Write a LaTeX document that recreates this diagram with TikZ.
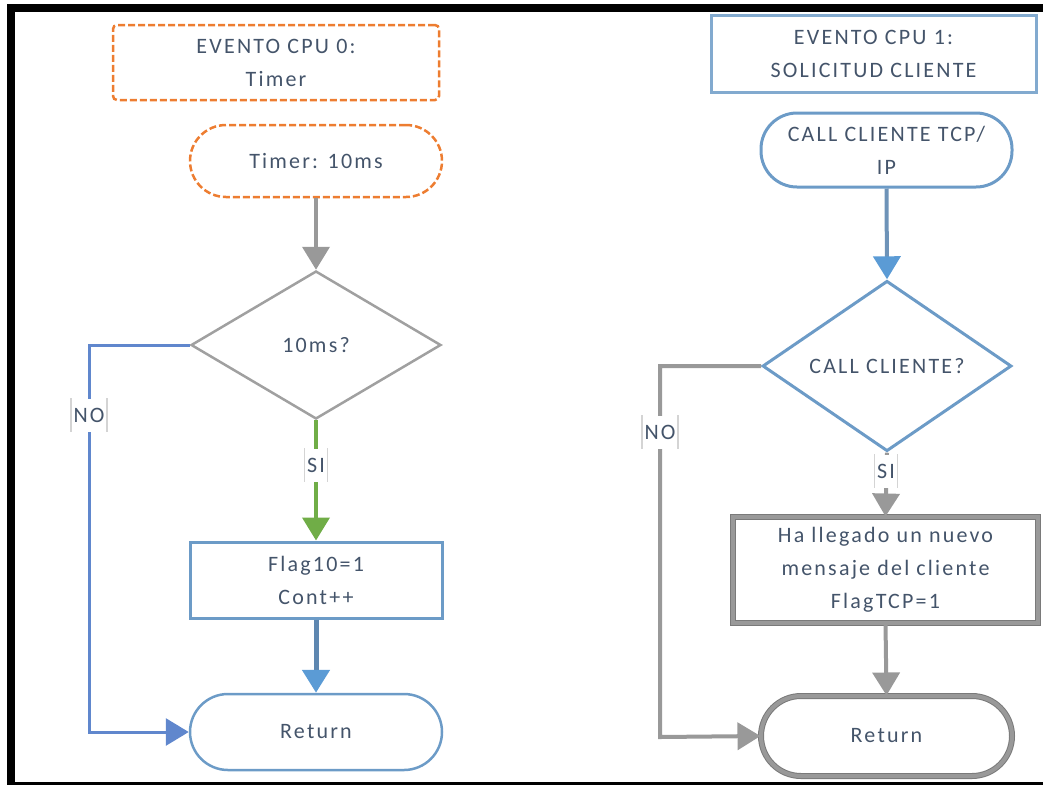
\documentclass[tikz,border=0pt]{standalone}
\usepackage{fontspec}
\setmainfont{Carlito}[LetterSpace=10]
\usetikzlibrary{shapes.geometric,arrows.meta}
\definecolor{txtc}{HTML}{44546A}
\definecolor{orangeC}{HTML}{ED7D31}
\definecolor{grayL}{HTML}{A0A0A0}
\definecolor{grayD}{HTML}{7A7A7A}
\definecolor{grayM}{HTML}{999999}
\definecolor{blueNo}{HTML}{4472C4}
\definecolor{greenC}{HTML}{70AD47}
\definecolor{steel}{HTML}{6C9BC7}
\definecolor{steelD}{HTML}{5E87B0}
\definecolor{headB}{HTML}{5B9BD5}
\definecolor{barC}{HTML}{D4D4D4}
\tikzset{
  x=1pt, y=-1pt,
  txt/.style={text=txtc, font=\fontsize{22}{33}\selectfont, align=center, inner sep=0pt},
  orbox/.style={txt, draw=orangeC, line width=2.5pt, dash pattern=on 7pt off 3pt},
  bluebox/.style={txt, draw=steel, line width=3pt},
  graybox/.style={txt, draw=grayD, line width=1pt, double=grayM, double distance=4pt},
  dia/.style={txt, diamond, inner sep=0pt},
  lbl/.style={txt, fill=white, minimum height=33pt, inner xsep=2.5pt},
  lblbar/.style={draw=barC, line width=1.5pt},
  tip/.style={-{Triangle[width=27pt,length=23pt,#1]}},
  tip/.default={},
}
\begin{document}
\begin{tikzpicture}
\useasboundingbox (0,0) rectangle (1043,785);
% frame
\fill[black] (7,4) rectangle (15,785);
\fill[black] (7,4) rectangle (1043,12);
\fill[black] (7,782) rectangle (1043,785);

% ---------- left column ----------
\node[orbox, rounded corners=4pt, minimum width=326pt, minimum height=75pt] (ev0) at (276,62.5) {EVENTO CPU 0:\\Timer};
\node[orbox, rounded corners=36pt, minimum width=252pt, minimum height=72pt] (tm0) at (316,161) {Timer: 10ms};
\node[dia, draw=grayL, line width=2.5pt, minimum width=250pt, minimum height=148pt] (d0) at (316,345) {10ms?};
\node[bluebox, minimum width=252pt, minimum height=76pt] (fl0) at (316,580) {Flag10=1\\Cont++};
\node[txt, draw=steel, line width=2.5pt, rounded corners=38pt, minimum width=252pt, minimum height=76pt] (rt0) at (316,732) {Return};

\draw[tip, draw=grayM, line width=4pt] (tm0) -- (d0);
\coordinate (n0a) at (89,345);
\coordinate (n0b) at (89,732);
\draw[tip, draw=blueNo!85, line width=3pt] (d0.west) -- (n0a) -- (n0b) -- (rt0.west);
\node[lbl] (no0) at (89,415) {NO};
\draw[lblbar] (no0.north west) -- (no0.south west) (no0.north east) -- (no0.south east);
\draw[tip, draw=greenC, line width=4pt] (d0.south) -- (fl0.north);
\node[lbl] (si0) at (316,465) {SI};
\draw[lblbar] (si0.north west) -- (si0.south west) (si0.north east) -- (si0.south east);
\draw[tip={fill=headB,color=headB}, draw=steelD, line width=5pt] (fl0.south) -- (rt0.north);

% ---------- right column ----------
\node[txt, draw=steel!85, line width=3pt, minimum width=325pt, minimum height=77pt] (ev1) at (873.5,53.5) {EVENTO CPU 1:\\SOLICITUD CLIENTE};
\node[txt, draw=steel, line width=3pt, rounded corners=36pt, minimum width=251pt, minimum height=74pt] (cl1) at (886.5,150) {CALL CLIENTE TCP/\\IP};
\node[dia, draw=steel, line width=3pt, minimum width=249pt, minimum height=148pt] (d1) at (887,366) {CALL CLIENTE?};
\node[graybox, minimum width=305pt, minimum height=106pt] (fl1) at (885.5,570) {Ha llegado un nuevo\\mensaje del cliente\\FlagTCP=1};
\node[graybox, rounded corners=40pt, minimum width=251pt, minimum height=80pt] (rt1) at (886.5,736) {Return};

\draw[tip={fill=headB,color=headB}, draw=steelD!90, line width=4pt] (cl1.south) -- (d1.north);
\coordinate (n1a) at (660,366);
\coordinate (n1b) at (660,737);
\draw[tip, draw=grayM, line width=4pt] (d1.west) -- (n1a) -- (n1b) -- (rt1.west);
\node[lbl] (no1) at (660,432) {NO};
\draw[lblbar] (no1.north west) -- (no1.south west) (no1.north east) -- (no1.south east);
\draw[tip, draw=grayM, line width=4pt] (d1.south) -- (fl1.north);
\node[lbl] (si1) at (886,471) {SI};
\draw[lblbar] (si1.north west) -- (si1.south west) (si1.north east) -- (si1.south east);
\draw[tip, draw=grayM, line width=4pt] (fl1.south) -- (rt1.north);
\end{tikzpicture}
\end{document}
